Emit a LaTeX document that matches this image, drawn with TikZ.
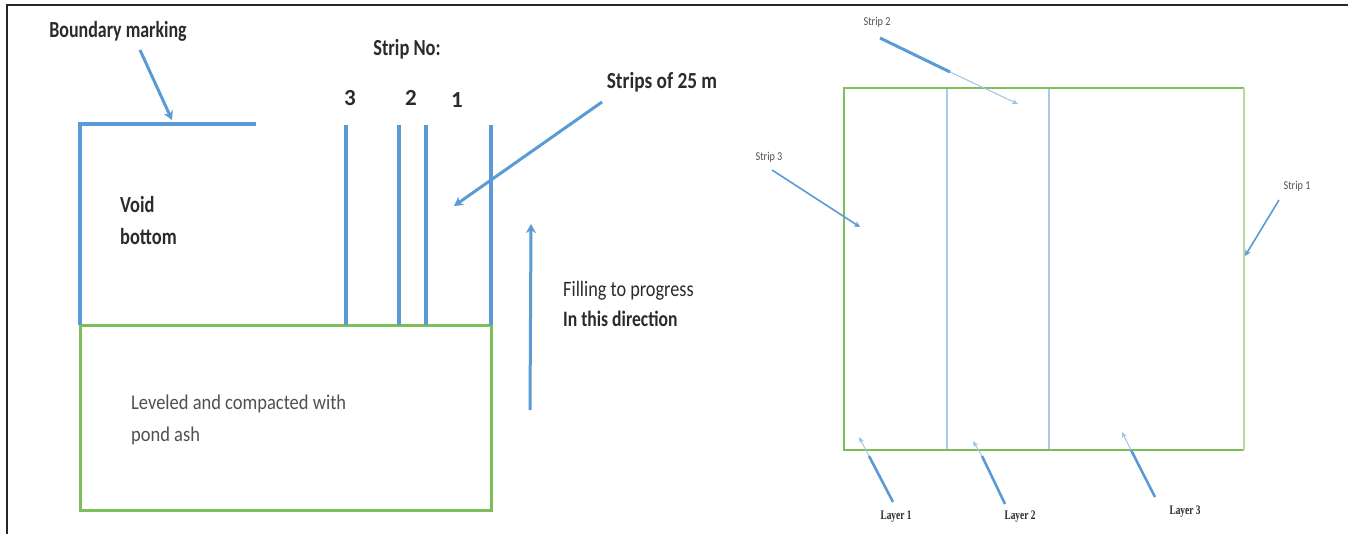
\documentclass[tikz,border=0pt]{standalone}
\usepackage{fontspec}
\usepackage{graphicx}
\usetikzlibrary{arrows.meta}
\newfontfamily\carl{Carlito}
\newfontfamily\tnr{Liberation Serif}
\definecolor{bblue}{HTML}{5B9BD5}
\definecolor{lblue}{HTML}{A9CBEA}
\definecolor{ggreen}{HTML}{7CBF5A}
\definecolor{lgreen}{HTML}{B5DBA0}
\definecolor{txt}{HTML}{2B2B2B}
\definecolor{gtxt}{HTML}{505050}
\tikzset{
  bold/.style={font=\carl\bfseries\fontsize{23}{25}\selectfont, text=txt, inner sep=0pt},
  small/.style={font=\carl\fontsize{12}{14}\selectfont, text=gtxt, inner sep=0pt},
  layer/.style={font=\tnr\bfseries\fontsize{13}{15}\selectfont, text=txt, inner sep=0pt},
  bline/.style={draw=bblue, line width=4pt},
  barrow/.style={draw=bblue, line width=3pt, -{Stealth[length=9pt,width=10pt]}},
  tarrow/.style={draw=bblue, line width=1.6pt, -{Stealth[length=6pt,width=6pt]}},
  fade/.style={draw=bblue!60, line width=1pt, -{Stealth[length=6pt,width=5pt]}},
}
\begin{document}
\begin{tikzpicture}[x=1pt,y=-1pt]
\useasboundingbox (0,0) rectangle (1348,534);
% frame
\draw[line width=1.6pt, black!85] (1348,5) -- (7,5) -- (7,534);

% ---------- left diagram ----------
\draw[ggreen, line width=3pt] (80,325) rectangle (491,510);
\draw[bline] (256,124) -- (80,124) -- (80,325);
\foreach \x in {346,399,426,491} \draw[bline, line width=3.6pt] (\x,125) -- (\x,325);

\node[bold] (bm) at (118,31) {\scalebox{0.78}[1]{Boundary marking}};
\coordinate (bmt) at (172,120);
\draw[barrow] ([xshift=22pt,yshift=-19pt]bm.center) -- (bmt);

\node[bold] (sn) at (407,49) {\scalebox{0.8}[1]{Strip No:}};
\node[bold] (n3) at (350,98) {3};
\node[bold] (n2) at (411,98) {2};
\node[bold] (n1) at (457,100) {1};

\node[bold] (s25) at (662,82) {\scalebox{0.84}[1]{Strips of 25 m}};
\coordinate (s25t) at (454,206);
\draw[barrow] ([xshift=-60pt,yshift=-20pt]s25.center) -- (s25t);

\node[bold, align=left, anchor=north west] (vb) at (120,196)
  {\scalebox{0.8}[1]{Void}\\[7pt]\scalebox{0.8}[1]{bottom}};

\node[font=\carl\fontsize{22}{30}\selectfont, text=txt, inner sep=0pt, align=left, anchor=north west] (fp) at (563,281)
  {\scalebox{0.83}[1]{Filling to progress}\\\scalebox{0.8}[1]{\bfseries In this direction}};
\coordinate (fb) at (530,410);
\coordinate (ft) at (531,224);
\draw[barrow, line width=3pt] (fb) -- (ft);

\node[font=\carl\fontsize{21}{32}\selectfont, text=gtxt, inner sep=0pt, align=left, anchor=north west] (lv) at (131,395)
  {\scalebox{0.88}[1]{Leveled and compacted with}\\\scalebox{0.88}[1]{pond ash}};

% ---------- right diagram ----------
\draw[lblue, line width=1.5pt] (947,88) -- (947,450);
\draw[lblue, line width=1.5pt] (1049,88) -- (1049,450);
\draw[ggreen, line width=2.2pt] (1244,88) -- (844,88) -- (844,450) -- (1244,450);
\draw[lgreen, line width=1.5pt] (1244,88) -- (1244,450);

\node[small] (st2) at (877,22) {\scalebox{0.85}[1]{Strip 2}};
\coordinate (st2m) at (950,72);
\coordinate (st2t) at (1018,104);
\draw[bblue, line width=3pt] ([xshift=3pt,yshift=-16pt]st2.center) -- (st2m);
\draw[fade] (st2m) -- (st2t);

\node[small] (st3) at (769,157) {\scalebox{0.85}[1]{Strip 3}};
\coordinate (st3t) at (860,227);
\draw[tarrow] ([xshift=3pt,yshift=-13pt]st3.center) -- (st3t);

\node[small] (st1) at (1297,186) {\scalebox{0.85}[1]{Strip 1}};
\coordinate (st1t) at (1245,256);
\draw[tarrow] ([xshift=-18pt,yshift=-14pt]st1.center) -- (st1t);

\node[layer] (l1) at (896,517) {\scalebox{0.72}[1]{Layer 1}};
\node[layer] (l2) at (1020,517) {\scalebox{0.72}[1]{Layer 2}};
\node[layer] (l3) at (1185,512) {\scalebox{0.72}[1]{Layer 3}};
\coordinate (l1m) at (869,456);
\coordinate (l1t) at (859,437);
\coordinate (l2m) at (982,456);
\coordinate (l2t) at (973,441);
\coordinate (l3m) at (1131,450);
\coordinate (l3t) at (1122,432);
\draw[bblue, line width=2.6pt] ([xshift=-3pt,yshift=15pt]l1.center) -- (l1m);
\draw[fade] (l1m) -- (l1t);
\draw[bblue, line width=2.6pt] ([xshift=-15pt,yshift=13pt]l2.center) -- (l2m);
\draw[fade] (l2m) -- (l2t);
\draw[bblue, line width=2.6pt] ([xshift=-30pt,yshift=15pt]l3.center) -- (l3m);
\draw[fade] (l3m) -- (l3t);
\end{tikzpicture}
\end{document}
